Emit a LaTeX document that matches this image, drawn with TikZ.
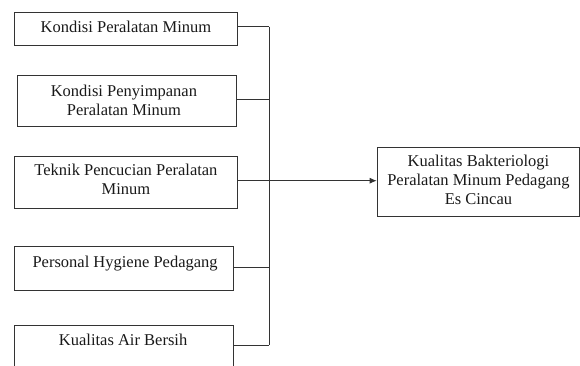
\documentclass[tikz,border=0pt]{standalone}
\usepackage{fontspec}
\setmainfont{Liberation Serif}
\usetikzlibrary{arrows.meta,calc}
\begin{document}
\begin{tikzpicture}[x=1pt,y=1pt,
  box/.style={draw=black!80, line width=0.9pt, rectangle, inner sep=0pt, anchor=north west},
  txt/.style={anchor=north, inner sep=0pt, align=center, font=\fontsize{16.5}{19}\selectfont, text=black!90},
  link/.style={draw=black!80, line width=0.9pt},
  arr/.style={link, -{Latex[length=7pt,width=6pt]}}]
\clip (0,0) rectangle (580,-365);
% left boxes
\node[box, minimum width=223pt, minimum height=33.5pt] (b1) at (14,-11.7) {};
\node[box, minimum width=219.5pt, minimum height=50.5pt] (b2) at (16.7,-75.2) {};
\node[box, minimum width=223pt, minimum height=52pt] (b3) at (14,-156) {};
\node[box, minimum width=219.3pt, minimum height=44pt] (b4) at (14,-246) {};
\node[box, minimum width=219.3pt, minimum height=60pt] (b5) at (14,-324.7) {};
% right box
\node[box, minimum width=202.6pt, minimum height=68.4pt] (r) at (376.7,-147.3) {};
% texts
\node[txt] (t1) at ($(b1.north)+(0,-9.5)$) {Kondisi Peralatan Minum};
\node[txt] (t2) at ($(b2.north)+(-3,-9.8)$) {Kondisi Penyimpanan\\Peralatan Minum};
\node[txt] (t3) at ($(b3.north)+(0,-8)$) {Teknik Pencucian Peralatan\\Minum};
\node[txt] (t4) at ($(b4.north)+(1,-10)$) {Personal Hygiene Pedagang};
\node[txt] (t5) at ($(b5.north)+(-1,-9.3)$) {Kualitas Air Bersih};
\node[txt] (tr) at ($(r.north)+(0,-7.7)$) {Kualitas Bakteriologi\\Peralatan Minum Pedagang\\Es Cincau};
% bus
\coordinate (bt) at (269.3,-26.7);
\coordinate (bb) at (269.3,-345);
\coordinate (bm) at (269.3,-180.7);
\draw[link] (bt) -- (bb);
\draw[link] (b1.east |- bt) -- (bt);
\draw[link] (b2.east |- 0,-99) -- (269.3,-99);
\draw[link] (b3.east |- bm) -- (bm);
\draw[link] (b4.east |- 0,-267.7) -- (269.3,-267.7);
\draw[link] (b5.east |- bb) -- (bb);
\draw[arr] (bm) -- (r.west |- bm);
\end{tikzpicture}
\end{document}
